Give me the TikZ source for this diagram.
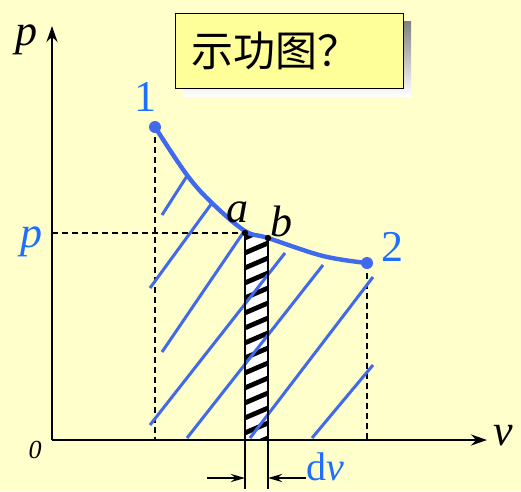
\documentclass[tikz,border=0pt]{standalone}
\usepackage{fontspec}
\setmainfont{Liberation Serif}
\newfontfamily\cjk{Noto Sans CJK SC}
\usetikzlibrary{arrows.meta}
\definecolor{bg}{RGB}{255,255,204}
\definecolor{boxfill}{RGB}{255,255,153}
\definecolor{shade}{RGB}{150,150,170}
\definecolor{curveblue}{RGB}{65,105,235}
\definecolor{labelblue}{RGB}{30,110,255}
\tikzset{
  axis/.style={line width=2.6pt,-{Stealth[length=16pt,width=11pt]}},
  guide/.style={line width=2.2pt,dash pattern=on 6pt off 4pt},
  hatch/.style={curveblue,line width=3pt},
  biglabel/.style={font=\fontsize{44}{48}\selectfont\itshape,inner sep=0pt},
  numlabel/.style={font=\fontsize{44}{48}\selectfont,text=labelblue,inner sep=0pt},
  dimarrow/.style={line width=2.4pt,-{Stealth[length=14pt,width=8pt]}},
}
\begin{document}
\begin{tikzpicture}[x=1pt,y=-1pt]
\fill[bg] (0,0) rectangle (521,491);
\useasboundingbox (0,0) rectangle (521,491);
% key coordinates
\coordinate (O) at (52,440);
\coordinate (ytop) at (52,26);
\coordinate (xend) at (487,440);
\coordinate (P1) at (155,127);
\coordinate (Pa) at (245,233);
\coordinate (Pb) at (268,238);
\coordinate (P2) at (367,263);
\coordinate (P1f) at (155,440);
\coordinate (P2f) at (367,440);
\coordinate (pax) at (52,233);
\coordinate (abot) at (245,489);
\coordinate (bbot) at (268,489);
\coordinate (la) at (207,478);
\coordinate (lb) at (306,478);
\coordinate (ta) at (245,478);
\coordinate (tb) at (268,478);
% title box
\fill[shade] (183,21) rectangle (411,96);
\node[draw=black,line width=1.2pt,fill=boxfill,minimum width=228pt,minimum height=75pt,anchor=north west,inner sep=0pt] (title) at (175,13) {};
\node[anchor=west,inner sep=0pt,font=\cjk\fontsize{42}{44}\selectfont] (ttext) at (191,51) {示功图？};
% dashed guides
\draw[guide] (P1) -- (P1f);
\draw[guide] (P2) -- (P2f);
\draw[guide] (pax) -- (Pa);
% strip
\fill[white] (245,233) -- (268,238) -- (268,440) -- (245,440) -- cycle;
\begin{scope}
\clip (245,233) -- (268,238) -- (268,440) -- (245,440) -- cycle;
\foreach \y in {240,255,...,470}{
  \draw[line width=4.8pt] (240,\y) -- (275,\y-15);
}
\end{scope}
% blue hatching
\draw[hatch] (162,215) -- (187,176);
\draw[hatch] (150,288) -- (212,203);
\draw[hatch] (162,352) -- (243,233);
\draw[hatch] (150,425) -- (285,253);
\draw[hatch] (187,438) -- (323,265);
\draw[hatch] (250,438) -- (373,277);
\draw[hatch] (312,438) -- (373,365);
% strip outline
\draw[line width=2.8pt] (Pa) -- (abot);
\draw[line width=2.8pt] (Pb) -- (bbot);
% curve
\draw[curveblue,line width=4.4pt] plot[smooth,tension=0.6] coordinates {(155,127) (187,175) (212,203) (245,231) (268,238) (323,256) (367,263)};
\fill[curveblue] (P1) circle (6pt);
\fill[curveblue] (P2) circle (6pt);
\fill[black] (Pa) circle (3.2pt);
\fill[black] (Pb) circle (3.2pt);
% axes
\draw[axis] (O) -- (ytop);
\draw[axis] (O) -- (xend);
% dv arrows
\draw[dimarrow] (la) -- (ta);
\draw[dimarrow] (lb) -- (tb);
% labels
\node[biglabel] (lp) at (26,40) {p};
\node[biglabel,text=labelblue] (lpb) at (31,242) {p};
\node[biglabel] (lv) at (503,436) {v};
\node[inner sep=0pt,font=\fontsize{26}{28}\selectfont\itshape] (l0) at (35,450) {0};
\node[biglabel] (lla) at (237,212) {a};
\node[biglabel] (llb) at (281,221) {b};
\node[numlabel] (l1) at (145,97) {1};
\node[numlabel] (l2) at (392,247) {2};
\node[inner sep=0pt,font=\fontsize{40}{44}\selectfont,text=labelblue,anchor=base west] (ldv) at (306,480) {d\textit{v}};
\end{tikzpicture}
\end{document}
